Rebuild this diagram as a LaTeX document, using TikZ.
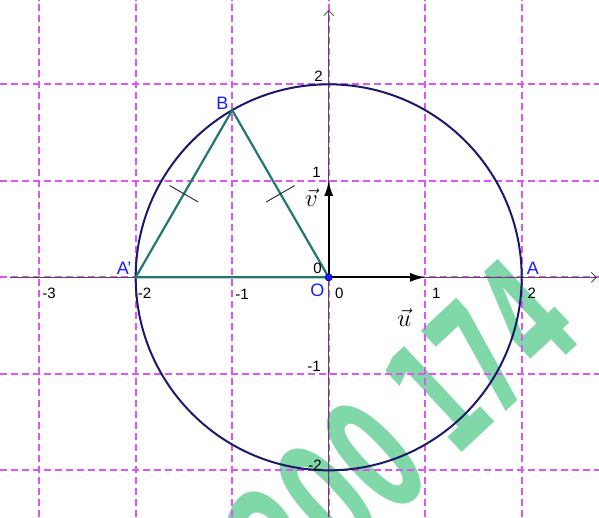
\documentclass[tikz,border=0pt]{standalone}
\usepackage{amsmath}
\usepackage{fontspec}
\setsansfont{Liberation Sans}
\newfontfamily\wmfont{DejaVu Sans}
\usetikzlibrary{arrows.meta, positioning, calc}
\definecolor{GridPink}{HTML}{DD55F5}
\definecolor{AxisGray}{HTML}{505050}
\definecolor{CircleNavy}{HTML}{1A1A6B}
\definecolor{TriTeal}{HTML}{21786C}
\definecolor{PtBlue}{HTML}{1A1AFF}
\definecolor{WmGreen}{HTML}{80D8A8}

\begin{document}
\begin{tikzpicture}[
    x=96.5pt, y=96.5pt,
    wmglyph/.style={transform shape, text=WmGreen, inner sep=0pt, font=\wmfont\bfseries\fontsize{160}{160}\selectfont},
    gridline/.style={draw=GridPink, line width=1.9pt, dash pattern=on 7pt off 4pt},
    axis/.style={draw=AxisGray, line width=0.9pt, -{Straight Barb[length=5pt, width=10pt]}},
    ticklbl/.style={font=\sffamily\fontsize{15}{15}\selectfont, inner sep=0pt},
    ptlbl/.style={font=\sffamily\fontsize{18}{18}\selectfont, text=PtBlue, inner sep=0pt},
    veclbl/.style={font=\fontsize{30}{30}\selectfont, inner sep=0pt},
    vec/.style={draw=black, line width=2.2pt, -{Latex[length=15pt, width=9pt]}},
    eqtick/.style={draw=black!80, line width=1pt}
]
\useasboundingbox (-3.406,-2.484) rectangle (2.801,2.874);
\begin{scope}[shift={(1.122,-1.230)}, rotate=43, xscale=0.55]
\node[wmglyph] (wm1) at (-3.995,0) {2};
\node[wmglyph] (wm2) at (-2.826,0) {0};
\node[wmglyph] (wm3) at (-1.620,0) {0};
\node[wmglyph] (wm4) at (0,0) {1};
\node[wmglyph] (wm5) at (1.093,0) {7};
\node[wmglyph] (wm6) at (2.261,0) {4};
\end{scope}
\draw[gridline] (-3,-2.484) -- (-3,2.874);
\draw[gridline] (-2,-2.484) -- (-2,2.874);
\draw[gridline] (-1,-2.484) -- (-1,2.874);
\draw[gridline] (0,-2.484) -- (0,2.874);
\draw[gridline] (1,-2.484) -- (1,2.874);
\draw[gridline] (2,-2.484) -- (2,2.874);
\draw[gridline] (-3.406,-2) -- (2.801,-2);
\draw[gridline] (-3.406,-1) -- (2.801,-1);
\draw[gridline] (-3.406,0) -- (2.801,0);
\draw[gridline] (-3.406,1) -- (2.801,1);
\draw[gridline] (-3.406,2) -- (2.801,2);
\coordinate (xl) at (-3.3,0);
\coordinate (xr) at (2.78,0);
\coordinate (yb) at (0,-2.484);
\coordinate (yt) at (0,2.77);
\draw[axis] (xl) -- (xr);
\draw[axis] (yb) -- (yt);
\coordinate (O) at (0,0);
\coordinate (A) at (2,0);
\coordinate (Ap) at (-2,0);
\coordinate (B) at (-1,{sqrt(3)});
\coordinate (U) at (1,0);
\coordinate (V) at (0,1);
\draw[CircleNavy, line width=2pt] (O) circle[radius=2];
\draw[TriTeal, line width=2.2pt, line join=round] (Ap) -- (B) -- (O) -- cycle;
\coordinate (m1) at ($(Ap)!0.5!(B)$);
\coordinate (m2) at ($(B)!0.5!(O)$);
\draw[eqtick] ($(m1)!0.17!90:(B)$) -- ($(m1)!0.17!-90:(B)$);
\draw[eqtick] ($(m2)!0.17!90:(O)$) -- ($(m2)!0.17!-90:(O)$);
\draw[vec] (O) -- (U);
\draw[vec] (O) -- (V);
\fill[PtBlue, draw=blue!60!black, line width=0.6pt] (O) circle[radius=3.6pt];
\node[ticklbl, anchor=north west] (xm3) at (-2.97,-0.11) {-3};
\node[ticklbl, anchor=north west] (xm2) at (-1.98,-0.11) {-2};
\node[ticklbl, anchor=north west] (xm1) at (-0.97,-0.125) {-1};
\node[ticklbl, anchor=north west] (x0) at (0.065,-0.11) {0};
\node[ticklbl, anchor=north west] (x1) at (1.07,-0.11) {1};
\node[ticklbl, anchor=north west] (x2) at (2.06,-0.11) {2};
\node[ticklbl, anchor=base east] (y2) at (-0.06,2.025) {2};
\node[ticklbl, anchor=base east] (y1) at (-0.08,1.03) {1};
\node[ticklbl, anchor=base east] (y0) at (-0.07,0.045) {0};
\node[ticklbl, anchor=base east] (ym1) at (-0.08,-0.98) {-1};
\node[ticklbl, anchor=base east] (ym2) at (-0.07,-1.997) {-2};
\node[ptlbl] (lAp) at (-2.12,0.096) {A'};
\node[ptlbl] (lB) at (-1.101,1.801) {B};
\node[ptlbl] (lO) at (-0.116,-0.132) {O};
\node[ptlbl] (lA) at (2.117,0.091) {A};
\node[veclbl] (lu) at (0.784,-0.42) {$\vec{u}$};
\node[veclbl] (lv) at (-0.179,0.83) {$\vec{v}$};
\end{tikzpicture}
\end{document}
